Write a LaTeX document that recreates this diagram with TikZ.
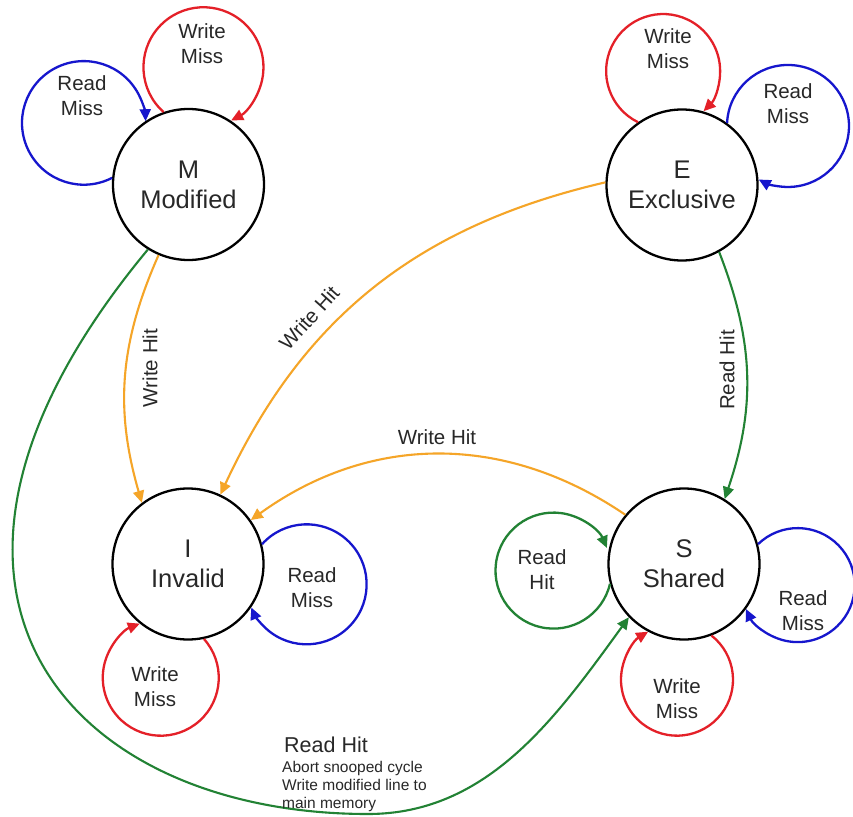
\documentclass[tikz,border=0pt]{standalone}
\usepackage{fontspec}
\setmainfont{Liberation Sans}
\usetikzlibrary{arrows.meta}
\definecolor{cred}{RGB}{228,32,40}
\definecolor{cblue}{RGB}{22,22,205}
\definecolor{cgreen}{RGB}{34,130,52}
\definecolor{corange}{RGB}{245,165,40}
\definecolor{ctext}{RGB}{40,40,40}
\begin{document}
\begin{tikzpicture}[x=1pt,y=1pt,
 state/.style={circle, draw=black, line width=2.3pt, minimum size=151pt, inner sep=0pt,
   font=\fontsize{25.5}{30}\selectfont, text=ctext, align=center},
 lbl/.style={font=\fontsize{20.5}{25}\selectfont, text=ctext, align=center, inner sep=0pt},
 tipstyle/.style={-{Triangle[length=12pt,width=11pt]}},
 lp/.style={tipstyle, line width=2.3pt},
 ed/.style={tipstyle, line width=2.1pt},
]
\useasboundingbox (0,0) rectangle (853,-816);
\fill[white] (0,0) rectangle (853,-816);

% states
\node[state] (M) at (188.5,-184.5) {M\\Modified};
\node[state] (E) at (682,-185) {E\\Exclusive};
\node[state] (I) at (188,-564) {I\\Invalid};
\node[state] (S) at (684,-564) {S\\Shared};

% self loops
\draw[lp, cblue] (M.175) arc[start angle=-62.7, end angle=-358.4, radius=61.8];
\draw[lp, cred] (M.109.5) arc[start angle=-131.7, end angle=-422.5, radius=60];
\draw[lp, cred] (E.125.4) arc[start angle=-116.1, end angle=-404.8, radius=57];
\draw[lp, cblue] (E.54.6) arc[start angle=-182.8, end angle=-478.6, radius=61];
\draw[lp, cblue] (I.15.4) arc[start angle=-222, end angle=-517.3, radius=60];
\draw[lp, cred] (I.282.3) arc[start angle=41.9, end angle=-248.8, radius=58];
\draw[lp, cgreen] (S.195) arc[start angle=-13.2, end angle=-337, radius=58];
\draw[lp, cblue] (S.15.2) arc[start angle=-225.9, end angle=-515.2, radius=57];
\draw[lp, cred] (S.291.2) arc[start angle=52, end angle=-239, radius=56];

% loop labels
\node[lbl] (mrm) at (82,-96) {Read\\Miss};
\node[lbl] (mwm) at (202,-44) {Write\\Miss};
\node[lbl] (ewm) at (668,-49) {Write\\Miss};
\node[lbl] (erm) at (788,-104) {Read\\Miss};
\node[lbl] (irm) at (312,-588) {Read\\Miss};
\node[lbl] (iwm) at (155,-687) {Write\\Miss};
\node[lbl] (srh) at (542,-570) {Read\\Hit};
\node[lbl] (srm) at (803,-611) {Read\\Miss};
\node[lbl] (swm) at (677,-699) {Write\\Miss};

% transitions
\coordinate (rhb) at (368,-814);
\draw[ed, corange] (M.247.7) to[bend right=20] (I.127);
\draw[ed, corange] (E.178) to[bend right=26] (I.65);
\draw[ed, corange] (S.140) to[bend right=35] (I.35);
\draw[ed, cgreen] (E.299.2) to[bend left=20] (S.58);
\draw[ed, cgreen] (M.238.5) .. controls (-135,-590) and (68,-814) .. (rhb)
  .. controls (488,-814) and (556.2,-717.2) .. (S.224.5);

% transition labels
\node[lbl, rotate=90] (wh1) at (150,-368) {Write Hit};
\node[lbl, rotate=48] (wh2) at (309,-318) {Write Hit};
\node[lbl] (wh3) at (437,-437) {Write Hit};
\node[lbl, rotate=90] (rh1) at (727,-370) {Read Hit};
\node[lbl, font=\fontsize{21.5}{25}\selectfont, anchor=west] (rh2) at (284,-745) {Read Hit};
\node[anchor=north west, font=\fontsize{15.5}{18}\selectfont, align=left, inner sep=0pt, text=ctext]
  (note) at (282,-761) {Abort snooped cycle\\Write modified line to\\main memory};
\end{tikzpicture}
\end{document}
